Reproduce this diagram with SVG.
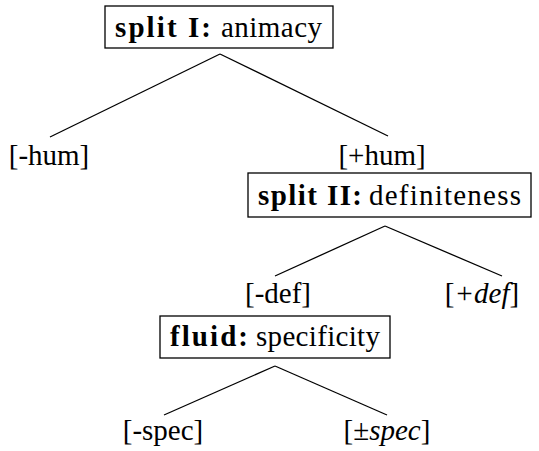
<svg xmlns="http://www.w3.org/2000/svg" width="539" height="451" viewBox="0 0 539 451">
<rect width="539" height="451" fill="#fff"/>
<g id="connectors" stroke="#000" stroke-width="1.3">
<line x1="220" y1="54" x2="50" y2="137"/>
<line x1="220" y1="54" x2="388" y2="136"/>
<line x1="385" y1="226" x2="275" y2="276"/>
<line x1="385" y1="226" x2="502" y2="276"/>
<line x1="275" y1="366" x2="164" y2="415"/>
<line x1="275" y1="366" x2="387" y2="415"/>
</g>
<g font-family="Liberation Serif" font-size="29">
<g id="split1"><rect fill="#fff" stroke="#000" stroke-width="1.3" x="105" y="6" width="228" height="42"/><text font-weight="bold" x="115" y="37" textLength="96" lengthAdjust="spacing">split I:</text><text x="221" y="37" textLength="101" lengthAdjust="spacing">animacy</text></g>
<g id="minushum"><text text-anchor="middle" x="49" y="165">[-hum]</text></g>
<g id="plushum"><text text-anchor="middle" x="382" y="165">[+hum]</text></g>
<g id="split2"><rect fill="#fff" stroke="#000" stroke-width="1.3" x="248" y="173" width="283" height="44"/><text font-weight="bold" x="258" y="205" textLength="104" lengthAdjust="spacing">split II:</text><text x="369" y="205" textLength="152" lengthAdjust="spacing">definiteness</text></g>
<g id="minusdef"><text text-anchor="middle" x="278" y="303">[-def]</text></g>
<g id="plusdef"><text text-anchor="middle" x="482" y="303">[<tspan font-style="italic">+def</tspan>]</text></g>
<g id="fluid"><rect fill="#fff" stroke="#000" stroke-width="1.3" x="160" y="316" width="230" height="42"/><text font-weight="bold" x="170" y="346" textLength="78" lengthAdjust="spacing">fluid:</text><text x="256" y="346" textLength="124" lengthAdjust="spacing">specificity</text></g>
<g id="minusspec"><text text-anchor="middle" x="163" y="440">[-spec]</text></g>
<g id="pmspec"><text text-anchor="middle" x="387" y="440">[±<tspan font-style="italic">spec</tspan>]</text></g>
</g>
</svg>
